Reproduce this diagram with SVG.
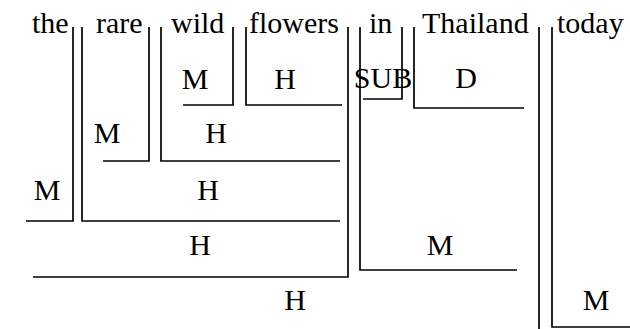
<svg xmlns="http://www.w3.org/2000/svg" width="630" height="329" viewBox="0 0 630 329">
  <style>
    text { font-family: "Liberation Serif", "Times New Roman", serif; font-size: 30px; fill: #000; }
    .lab { text-anchor: middle; }
    .br { fill: none; stroke: #000; stroke-width: 1.7; }
  </style>
  <rect width="630" height="329" fill="#fff"/>

  <!-- bracket lines: each constituent's bracket drops from its word edge and runs under it -->
  <g id="connectors">
    <polyline class="br" points="26,221 73,221 73,27"/>
    <polyline class="br" points="82,27 82,221 340,221"/>
    <polyline class="br" points="103,161 149,161 149,27"/>
    <polyline class="br" points="161,27 161,161 340,161"/>
    <polyline class="br" points="183,105 233,105 233,27"/>
    <polyline class="br" points="246,27 246,105 342,105"/>
    <polyline class="br" points="33,277 348,277 348,27"/>
    <polyline class="br" points="363,99 402,99 402,27"/>
    <polyline class="br" points="414,27 414,108 524,108"/>
    <polyline class="br" points="360,27 360,270 517,270"/>
    <polyline class="br" points="539,27 539,340"/>
    <polyline class="br" points="552,27 552,327 635,327"/>
  </g>

  <!-- words -->
  <g id="word-the"><text x="32" y="33">the</text></g>
  <g id="word-rare"><text x="96" y="33">rare</text></g>
  <g id="word-wild"><text x="171" y="33">wild</text></g>
  <g id="word-flowers"><text x="249" y="33">flowers</text></g>
  <g id="word-in"><text x="369" y="33">in</text></g>
  <g id="word-Thailand"><text x="422" y="33">Thailand</text></g>
  <g id="word-today"><text x="557" y="33">today</text></g>

  <!-- function labels -->
  <g id="lab-wild-M"><text class="lab" x="195" y="89">M</text></g>
  <g id="lab-flowers-H"><text class="lab" x="285" y="89">H</text></g>
  <g id="lab-in-SUB"><text class="lab" x="383" y="88">SUB</text></g>
  <g id="lab-Thailand-D"><text class="lab" x="466" y="88">D</text></g>
  <g id="lab-rare-M"><text class="lab" x="107" y="143">M</text></g>
  <g id="lab-wildflowers-H"><text class="lab" x="216" y="143">H</text></g>
  <g id="lab-the-M"><text class="lab" x="47" y="200">M</text></g>
  <g id="lab-rarewildflowers-H"><text class="lab" x="208" y="200">H</text></g>
  <g id="lab-therarewildflowers-H"><text class="lab" x="200" y="255">H</text></g>
  <g id="lab-inThailand-M"><text class="lab" x="440" y="255">M</text></g>
  <g id="lab-phrase-H"><text class="lab" x="295" y="310">H</text></g>
  <g id="lab-today-M"><text class="lab" x="596" y="310">M</text></g>
</svg>
